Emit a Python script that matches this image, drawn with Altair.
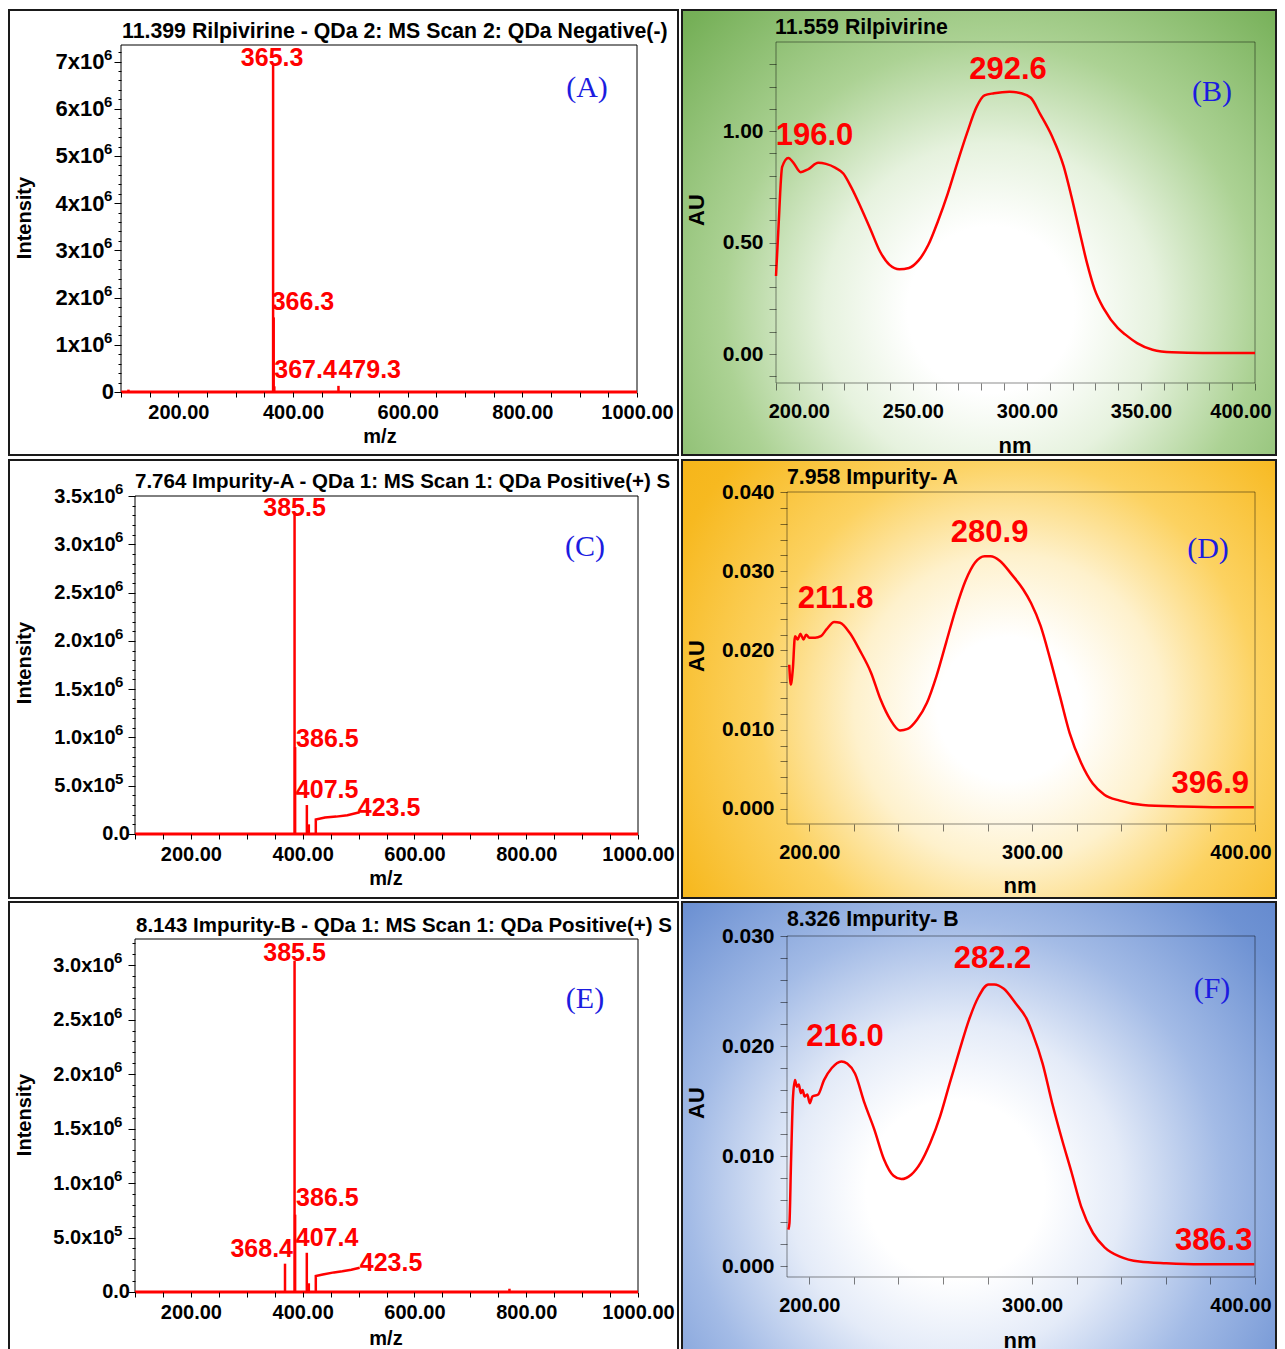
import altair as alt
import pandas as pd

SANS = "Liberation Sans"
SERIF = "Liberation Serif"
RED = "#ff0000"
BLUE = "#1c1ce0"
BORDER = "#1a1a1a"

# ---------------- (A) Rilpivirine MS ----------------
a_title = "11.399 Rilpivirine - QDa 2: MS Scan 2: QDa Negative(-)"
a_mz = [113.0, 365.3, 366.3, 367.4, 479.3]
a_int = [0.05e6, 6.95e6, 1.58e6, 0.12e6, 0.13e6]
a_hump_mz = []
a_hump_int = []
a_lab_txt = ["365.3", "366.3", "367.4", "479.3"]
a_lab_mz = [365.3, 366.3, 367.4, 479.3]
a_lab_int = [6.95e6, 1.58e6, 0.12e6, 0.13e6]
a_y_ticks = [i * 200000 for i in range(37)]
a_sup_val = [1e6, 2e6, 3e6, 4e6, 5e6, 6e6, 7e6]
a_sup_txt = ["6", "6", "6", "6", "6", "6", "6"]
a_zero_txt = "0"

# ---------------- (C) Impurity-A MS ----------------
c_title = "7.764 Impurity-A - QDa 1: MS Scan 1: QDa Positive(+) Scan"
c_mz = [385.5, 386.5, 407.5, 411.0]
c_int = [3.33e6, 0.90e6, 0.30e6, 0.10e6]
c_hump_mz = [423.5, 423.5, 440.0, 460.0, 480.0, 502.0]
c_hump_int = [0.0, 0.15e6, 0.17e6, 0.18e6, 0.195e6, 0.225e6]
c_lab_txt = ["385.5", "386.5", "407.5", "423.5"]
c_lab_mz = [385.5, 386.5, 407.5, 423.5]
c_lab_int = [3.33e6, 0.90e6, 0.30e6, 0.15e6]
c_y_ticks = [i * 100000 for i in range(36)]
c_sup_val = [0.5e6, 1.0e6, 1.5e6, 2.0e6, 2.5e6, 3.0e6, 3.5e6]
c_sup_txt = ["5", "6", "6", "6", "6", "6", "6"]
c_zero_txt = "0.0"

# ---------------- (E) Impurity-B MS ----------------
e_title = "8.143 Impurity-B - QDa 1: MS Scan 1: QDa Positive(+) Scan"
e_mz = [368.4, 385.5, 386.5, 407.4, 411.0, 770.0]
e_int = [0.26e6, 3.04e6, 0.71e6, 0.36e6, 0.08e6, 0.03e6]
e_hump_mz = [423.5, 423.5, 436.0, 456.0, 471.0, 487.0, 502.0]
e_hump_int = [0.0, 0.147e6, 0.16e6, 0.18e6, 0.19e6, 0.205e6, 0.222e6]
e_lab_txt = ["385.5", "386.5", "368.4", "407.4", "423.5"]
e_lab_mz = [385.5, 386.5, 368.4, 407.4, 423.5]
e_lab_int = [3.04e6, 0.71e6, 0.26e6, 0.36e6, 0.147e6]
e_y_ticks = [i * 100000 for i in range(33)]
e_sup_val = [0.5e6, 1.0e6, 1.5e6, 2.0e6, 2.5e6, 3.0e6]
e_sup_txt = ["5", "6", "6", "6", "6", "6"]
e_zero_txt = "0.0"

ms_x_ticks = [100 + 50 * i for i in range(19)]

# ---------------- (B) Rilpivirine UV ----------------
b_title = "11.559 Rilpivirine"
b_nm = [190.0, 191.0, 192.7, 195.4, 197.5, 200.8, 204.2, 208.5, 211.9, 216.1,
        219.5, 222.9, 227.1, 231.4, 235.6, 239.8, 244.1, 248.3, 252.5, 256.8,
        261.0, 265.3, 269.5, 273.7, 278.0, 281.4, 285.6, 292.4, 297.5, 301.7,
        305.9, 311.0, 316.1, 319.5, 322.9, 326.3, 329.7, 333.9, 339.8, 343.2,
        348.3, 355.1, 363.6, 377.1, 400.0]
b_au = [0.35, 0.55, 0.84, 0.88, 0.86, 0.816, 0.83, 0.858, 0.853, 0.835,
        0.81, 0.75, 0.66, 0.56, 0.46, 0.40, 0.38, 0.386, 0.42, 0.49,
        0.596, 0.72, 0.858, 0.99, 1.11, 1.16, 1.17, 1.177, 1.17, 1.15,
        1.075, 0.977, 0.843, 0.708, 0.558, 0.41, 0.29, 0.2, 0.117, 0.087,
        0.049, 0.019, 0.0075, 0.0045, 0.0045]
b_lab_txt = ["196.0", "292.6"]
b_lab_nm = [196.0, 292.6]
b_lab_au = [0.88, 1.177]
b_x_ticks = [190 + 10 * i for i in range(22)]
b_y_ticks = [round(-0.1 + 0.1 * i, 1) for i in range(15)]

# ---------------- (D) Impurity-A UV ----------------
d_title = "7.958 Impurity- A"
d_nm = [191.0, 191.7, 192.6, 193.6, 194.8, 196.0, 197.4, 198.6, 200.0, 202.6,
        205.2, 207.8, 211.2, 213.8, 218.2, 222.5, 227.7, 232.0, 236.3, 240.7,
        244.1, 248.4, 252.8, 257.1, 261.4, 265.7, 270.1, 274.4, 278.7, 281.3,
        285.6, 290.8, 296.0, 299.5, 303.8, 308.1, 312.5, 316.8, 322.0, 327.2,
        332.4, 339.3, 349.7, 367.0, 384.3, 399.5]
d_au = [0.0182, 0.0157, 0.0176, 0.0218, 0.0214, 0.0221, 0.0214, 0.0220, 0.0216, 0.0216,
        0.0218, 0.0227, 0.0236, 0.0235, 0.0222, 0.0201, 0.0172, 0.0138, 0.0113, 0.0099,
        0.0101, 0.0113, 0.0134, 0.0168, 0.0210, 0.0252, 0.0288, 0.0311, 0.0319, 0.0319,
        0.0313, 0.0296, 0.0277, 0.0260, 0.0231, 0.0189, 0.0142, 0.0096, 0.0058, 0.0032,
        0.0018, 0.00105, 0.0005, 0.0003, 0.0002, 0.0002]
d_lab_txt = ["211.8", "280.9", "396.9"]
d_lab_nm = [211.8, 280.9, 396.9]
d_lab_au = [0.0236, 0.0319, 0.0002]
d_y_ticks = [round(0.002 * i, 3) for i in range(21)]

# ---------------- (F) Impurity-B UV ----------------
f_title = "8.326 Impurity- B"
f_nm = [190.6, 191.1, 191.8, 192.7, 193.6, 194.4, 195.3, 196.2, 197.0, 197.9,
        199.1, 200.2, 201.4, 204.0, 206.6, 210.1, 214.4, 217.0, 220.5, 224.8,
        229.2, 233.5, 237.8, 241.3, 245.7, 250.0, 254.3, 258.7, 263.0, 267.4,
        271.7, 276.0, 280.4, 283.0, 287.3, 292.5, 297.7, 300.3, 304.7, 309.0,
        313.4, 317.7, 322.0, 327.3, 332.5, 339.4, 348.1, 360.2, 375.9, 399.7]
f_au = [0.0033, 0.0039, 0.0094, 0.0154, 0.0169, 0.0163, 0.0165, 0.0157, 0.0160, 0.0154,
        0.0156, 0.0148, 0.0154, 0.0156, 0.0169, 0.0180, 0.0186, 0.0184, 0.0175, 0.0148,
        0.0124, 0.0097, 0.0082, 0.0079, 0.0083, 0.0094, 0.0112, 0.0136, 0.0166, 0.0196,
        0.0224, 0.0245, 0.0256, 0.0256, 0.0252, 0.0239, 0.0224, 0.0211, 0.0184, 0.0148,
        0.0115, 0.0085, 0.0054, 0.0030, 0.0017, 0.00085, 0.0004, 0.00024, 0.00015, 0.00015]
f_lab_txt = ["216.0", "282.2", "386.3"]
f_lab_nm = [216.0, 282.2, 386.3]
f_lab_au = [0.0186, 0.0256, 0.00015]
f_y_ticks = [round(0.002 * i, 3) for i in range(16)]

df_x_ticks = [200 + 20 * i for i in range(11)]


# ---------------- helpers ----------------
def one(**kw):
    return pd.DataFrame({k: [v] for k, v in kw.items()})


def text_layer(txt, x, y, size, color="black", font=SANS, weight="bold",
               align="left", angle=0, limit=0):
    kw = dict(font=font, fontSize=size, fontWeight=weight, color=color,
              align=align, baseline="middle")
    if angle:
        kw["angle"] = angle
    if limit:
        kw["limit"] = limit
        kw["ellipsis"] = "\u200b"
    return alt.Chart(one(t=txt)).mark_text(**kw).encode(
        x=alt.value(x), y=alt.value(y), text="t:N")


def rect_layer(x0, x1, y0, y1, fill, stroke, width, fill_op=1.0, stroke_op=1.0):
    return alt.Chart(one(k=0)).mark_rect(
        fill=fill, fillOpacity=fill_op, stroke=stroke, strokeOpacity=stroke_op,
        strokeWidth=width
    ).encode(x=alt.value(x0), x2=alt.value(x1), y=alt.value(y0), y2=alt.value(y1))


def radial(cx, cy, r, stops):
    return alt.RadialGradient(
        gradient="radial", x1=cx, y1=cy, r1=0, x2=cx, y2=cy, r2=r,
        stops=[alt.GradientStop(offset=o, color=c) for o, c in stops])


def base_axis(**kw):
    d = dict(labelFont=SANS, labelFontSize=20, labelFontWeight="bold", labelColor="black",
             labelOverlap=False, domain=False, grid=False,
             title=None, zindex=1, tickWidth=1)
    d.update(kw)
    return alt.Axis(**d)


def geometry(p):
    bx0, by0, bx1, by1 = p["box"]
    px0, py0, px1, py1 = p["plot"]
    W, H = bx1 - bx0, by1 - by0
    rel = lambda x, y: (x - bx0, y - by0)
    return W, H, (px0 - bx0, px1 - bx0), (py1 - by0, py0 - by0), rel


def panel(p, kind):
    W, H, xr, yr, rel = geometry(p)
    xs = alt.Scale(domain=p["xdom"], range=list(xr), nice=False, zero=False)
    ys = alt.Scale(domain=p["ydom"], range=list(yr), nice=False, zero=False)
    x_off = yr[0] - H          # bottom axis moved up onto the plot's bottom edge
    y_off = -xr[0]             # left axis moved right onto the plot's left edge
    if kind == "ms":
        xax = base_axis(values=ms_x_ticks, labelAngle=0, labelFlush=False, offset=x_off,
                        labelExpr="datum.value % 200 === 0 ? format(datum.value, '.2f') : ''",
                        tickSize=5, tickColor="black", labelPadding=5)
        yax = base_axis(values=p["yticks"], labelExpr=p["ylabel"], labelFlush=False,
                        offset=y_off, labelFontSize=p["ylab_size"],
                        tickSize={"condition": {"test": p["major"], "value": 7}, "value": 3},
                        tickColor="black", labelPadding=p["ylab_pad"])
    else:
        xax = base_axis(values=p["xticks"], labelAngle=0, labelExpr=p["xlabel"],
                        labelFlush=2, labelFlushOffset=16, offset=x_off,
                        tickSize=7, tickColor="black", tickOpacity=0.5, labelPadding=11)
        yax = base_axis(values=p["yticks"], labelExpr=p["ylabel"], labelFlush=False,
                        offset=y_off, labelFontSize=21,
                        tickSize=7, tickColor="black", tickOpacity=0.5, labelPadding=6)

    def X(f):
        return alt.X(f, scale=xs, axis=xax)

    def Y(f):
        return alt.Y(f, scale=ys, axis=yax)

    layers = [rect_layer(0, W, 0, H, p["fill"], BORDER, 2)]
    if kind == "ms":
        layers.append(rect_layer(xr[0], xr[1], yr[1], yr[0], "white", "black", 1, fill_op=0))
        sticks = pd.DataFrame({"mz": p["mz"], "inten": p["int"]})
        layers.append(alt.Chart(sticks).mark_rule(color=RED, strokeWidth=2.5).encode(
            x=X("mz:Q"), y=Y("inten:Q"), y2=alt.datum(0)))
        base = pd.DataFrame({"x0": [100], "x1": [1000], "y": [0]})
        layers.append(alt.Chart(base).mark_rule(color=RED, strokeWidth=3).encode(
            x=X("x0:Q"), x2="x1:Q", y=Y("y:Q")))
        if p["hmz"]:
            hump = pd.DataFrame({"mz": p["hmz"], "inten": p["hint"],
                                 "i": list(range(len(p["hmz"])))})
            layers.append(alt.Chart(hump).mark_line(color=RED, strokeWidth=2.5).encode(
                x=X("mz:Q"), y=Y("inten:Q"), order="i:Q"))
        # exponent superscripts of the intensity tick labels, and the zero label
        sup = pd.DataFrame({"inten": p["sup_val"], "t": p["sup_txt"]})
        layers.append(alt.Chart(sup).mark_text(
            font=SANS, fontSize=15, fontWeight="bold", color="black", align="left",
            baseline="middle", dy=-7).encode(
            x=alt.value(rel(p["sup_x"], 0)[0]), y=Y("inten:Q"), text="t:N"))
        zero = one(inten=0.0, t=p["zero_txt"])
        layers.append(alt.Chart(zero).mark_text(
            font=SANS, fontSize=p["ylab_size"], fontWeight="bold", color="black",
            align="right", baseline="middle").encode(
            x=alt.value(rel(p["zero_x"], 0)[0]), y=Y("inten:Q"), text="t:N"))
        lab_size = 25
    else:
        layers.append(rect_layer(xr[0], xr[1], yr[1], yr[0], "white", "black", 1,
                                 fill_op=0, stroke_op=0.45))
        spec = pd.DataFrame({"mz": p["nm"], "inten": p["au"]})
        layers.append(alt.Chart(spec).mark_line(color=RED, strokeWidth=2.5,
                                                interpolate="monotone").encode(
            x=X("mz:Q"), y=Y("inten:Q")))
        lab_size = 31
    for t, xv, yv, (al, dx, dy) in zip(p["ltxt"], p["lx"], p["ly"], p["lsty"]):
        layers.append(alt.Chart(one(mz=xv, inten=yv, t=t)).mark_text(
            font=SANS, fontSize=lab_size, fontWeight="bold", color=RED, align=al,
            baseline="middle", dx=dx, dy=dy).encode(
            x=X("mz:Q"), y=Y("inten:Q"), text="t:N"))
    tx, ty = rel(*p["title_pos"])
    layers.append(text_layer(p["title"], tx, ty, p.get("title_size", 21.3),
                             limit=p.get("limit", 0)))
    ax_, ay_ = rel(*p["ytitle_pos"])
    layers.append(text_layer(p["ytitle"], ax_, ay_, p["axis_title_size"],
                             align="center", angle=270))
    nx, ny = rel(*p["xtitle_pos"])
    layers.append(text_layer(p["xtitle"], nx, ny, p["axis_title_size"], align="center"))
    lx, ly = rel(*p["letter_pos"])
    layers.append(text_layer(p["letter"], lx, ly, 30, color=BLUE, font=SERIF,
                             weight="normal", align="center"))
    return alt.layer(*layers).properties(width=W, height=H)


# ---------------- panels (positions in page pixels) ----------------
lab6 = ("datum.value > 0 && datum.value % 1000000 === 0 ? "
        "format(datum.value / 1000000, 'd') + 'x10' : ''")
lab56 = ("datum.value > 0 && datum.value % 500000 === 0 ? "
         "(datum.value < 1000000 ? format(datum.value / 100000, '.1f') + 'x10' : "
         "format(datum.value / 1000000, '.1f') + 'x10') : ''")
uv_x50 = "datum.value % 50 === 0 ? format(datum.value, '.2f') : ''"
uv_x100 = "datum.value % 100 === 0 ? format(datum.value, '.2f') : ''"
uv_y2 = "abs(datum.value * 2 - round(datum.value * 2)) < 0.001 ? format(datum.value, '.2f') : ''"
uv_y3 = "abs(datum.value * 100 - round(datum.value * 100)) < 0.001 ? format(datum.value, '.3f') : ''"

green = radial(0.52, 0.63, 1.0, [(0, "#ffffff"), (0.14, "#ffffff"), (0.28, "#e6f2de"),
                                 (0.45, "#acd294"), (0.7, "#76b058"), (1, "#5a9c3c")])
orange = radial(0.55, 0.55, 1.0, [(0, "#ffffff"), (0.12, "#ffffff"), (0.26, "#fef1cc"),
                                  (0.42, "#fcd261"), (0.62, "#f7b920"), (1, "#f0a600")])
blue = radial(0.46, 0.60, 1.0, [(0, "#ffffff"), (0.15, "#ffffff"), (0.28, "#e4ebf8"),
                                (0.45, "#a3bbe6"), (0.65, "#6e92d3"), (1, "#4770c0")])

ms_common = dict(xdom=[100, 1000], fill="white", ytitle="Intensity", xtitle="m/z",
                 axis_title_size=20)
uv_common = dict(xdom=[190, 400], ytitle="AU", xtitle="nm", axis_title_size=22)

A = panel(dict(ms_common,
    box=(9, 10, 678, 455), plot=(121, 45, 637, 392),
    ydom=[0, 7.35e6], yticks=a_y_ticks, ylabel=lab6, major="datum.value % 1000000 === 0",
    ylab_size=22, ylab_pad=10, sup_val=a_sup_val, sup_txt=a_sup_txt, sup_x=104,
    zero_txt=a_zero_txt, zero_x=114,
    mz=a_mz, int=a_int, hmz=a_hump_mz, hint=a_hump_int,
    ltxt=a_lab_txt, lx=a_lab_mz, ly=a_lab_int,
    lsty=[("center", -1, -6), ("left", -2, -15), ("left", 0, -16), ("left", 0, -16)],
    title=a_title, title_pos=(122, 32), ytitle_pos=(25, 218), xtitle_pos=(380, 437),
    letter="(A)", letter_pos=(587, 88)), "ms")

C = panel(dict(ms_common,
    box=(9, 459, 678, 897), plot=(135, 495, 638, 833),
    ydom=[0, 3.5e6], yticks=c_y_ticks, ylabel=lab56, major="datum.value % 500000 === 0",
    ylab_size=20, ylab_pad=13, sup_val=c_sup_val, sup_txt=c_sup_txt, sup_x=115,
    zero_txt=c_zero_txt, zero_x=130,
    mz=c_mz, int=c_int, hmz=c_hump_mz, hint=c_hump_int,
    ltxt=c_lab_txt, lx=c_lab_mz, ly=c_lab_int,
    lsty=[("center", 0, -4), ("left", 1, -8), ("left", -11, -15), ("left", 42, -12)],
    title=c_title, title_size=20.5, limit=541, title_pos=(135, 481),
    ytitle_pos=(25, 662), xtitle_pos=(386, 878), letter="(C)", letter_pos=(585, 546)), "ms")

E = panel(dict(ms_common,
    box=(9, 901, 678, 1357), plot=(135, 938, 638, 1291),
    ydom=[0, 3.24e6], yticks=e_y_ticks, ylabel=lab56, major="datum.value % 500000 === 0",
    ylab_size=20, ylab_pad=14, sup_val=e_sup_val, sup_txt=e_sup_txt, sup_x=114,
    zero_txt=e_zero_txt, zero_x=130,
    mz=e_mz, int=e_int, hmz=e_hump_mz, hint=e_hump_int,
    ltxt=e_lab_txt, lx=e_lab_mz, ly=e_lab_int,
    lsty=[("center", 0, -8), ("left", 1, -17), ("right", 8, -15), ("left", -11, -15),
          ("left", 44, -13)],
    title=e_title, title_size=20.5, limit=540, title_pos=(136, 925),
    ytitle_pos=(25, 1114), xtitle_pos=(386, 1338), letter="(E)", letter_pos=(585, 998)), "ms")

B = panel(dict(uv_common,
    box=(682, 10, 1276, 455), plot=(776, 42, 1255, 383), fill=green,
    ydom=[-0.13, 1.40], xticks=b_x_ticks, yticks=b_y_ticks, xlabel=uv_x50, ylabel=uv_y2,
    nm=b_nm, au=b_au, ltxt=b_lab_txt, lx=b_lab_nm, ly=b_lab_au,
    lsty=[("left", -14, -22), ("center", -2, -22)],
    title=b_title, title_pos=(775, 28), ytitle_pos=(697, 210), xtitle_pos=(1015, 446),
    letter="(B)", letter_pos=(1212, 92)), "uv")

D = panel(dict(uv_common,
    box=(682, 459, 1276, 897), plot=(787, 491, 1255, 823), fill=orange,
    ydom=[-0.0019, 0.040], xticks=df_x_ticks, yticks=d_y_ticks, xlabel=uv_x100, ylabel=uv_y3,
    nm=d_nm, au=d_au, ltxt=d_lab_txt, lx=d_lab_nm, ly=d_lab_au,
    lsty=[("center", 0, -23), ("center", 0, -23), ("right", 1, -23)],
    title=d_title, title_pos=(787, 477), ytitle_pos=(697, 655), xtitle_pos=(1020, 885),
    letter="(D)", letter_pos=(1208, 548)), "uv")

F = panel(dict(uv_common,
    box=(682, 901, 1276, 1357), plot=(787, 935, 1255, 1276), fill=blue,
    ydom=[-0.001, 0.030], xticks=df_x_ticks, yticks=f_y_ticks, xlabel=uv_x100, ylabel=uv_y3,
    nm=f_nm, au=f_au, ltxt=f_lab_txt, lx=f_lab_nm, ly=f_lab_au,
    lsty=[("center", 0, -24), ("center", 0, -25), ("right", 28, -23)],
    title=f_title, title_pos=(787, 919), ytitle_pos=(697, 1102), xtitle_pos=(1020, 1340),
    letter="(F)", letter_pos=(1212, 988)), "uv")

row1 = alt.hconcat(A, B, spacing=2)
row2 = alt.hconcat(C, D, spacing=2)
row3 = alt.hconcat(E, F, spacing=2)

chart = alt.vconcat(row1, row2, row3, spacing=2).properties(
    padding={"left": 0, "top": 1, "right": 0, "bottom": 0},
    background="white",
).configure_view(strokeWidth=0)

chart.save("out.html", embed_options={"renderer": "svg", "actions": False})
